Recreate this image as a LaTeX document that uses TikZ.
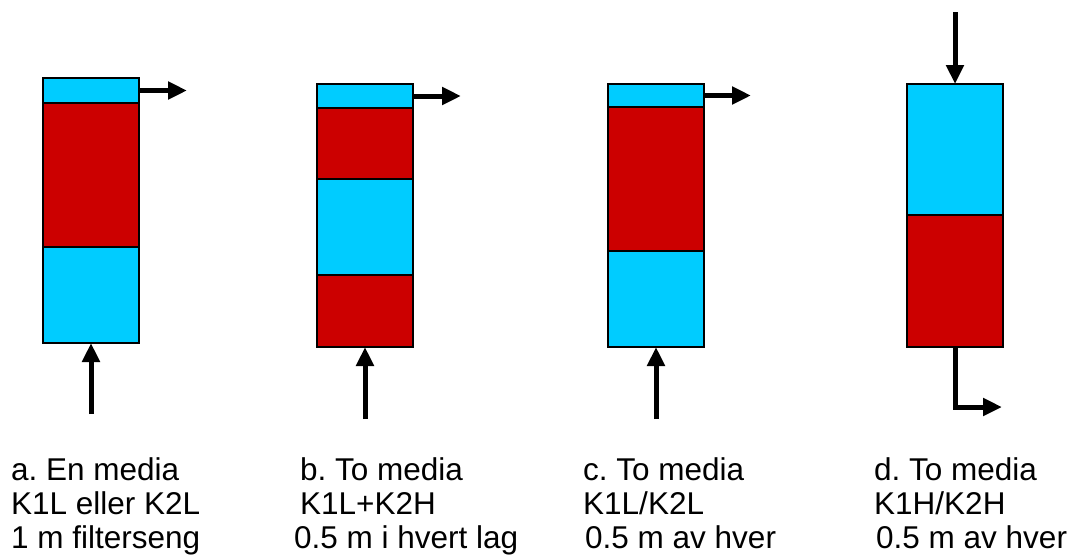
\documentclass[tikz,border=0pt]{standalone}
\usepackage{fontspec}
\setmainfont{Liberation Sans}
\usetikzlibrary{arrows.meta}
\definecolor{filtblaa}{HTML}{00CCFF}
\definecolor{filtrod}{HTML}{CC0000}
\frenchspacing

\begin{document}
\begin{tikzpicture}[x=1pt,y=-1pt,
  lag/.style={draw,line width=1.2pt,minimum width=96pt,inner sep=0pt,outer sep=0pt},
  pil/.style={line width=5pt,-{Triangle[length=19pt,width=17pt]}},
  tekst/.style={anchor=base west,inner sep=0pt,font=\fontsize{31.5}{34}\selectfont}]
  \useasboundingbox (0,0) rectangle (1072,560);
  % Filter a
  \node[lag,fill=filtblaa,minimum height=25pt] (a1) at (91,90.5) {};
  \node[lag,fill=filtrod,minimum height=144pt] (a2) at (91,175) {};
  \node[lag,fill=filtblaa,minimum height=96pt] (a3) at (91,295) {};
  % Filter b
  \node[lag,fill=filtblaa,minimum height=24pt] (b1) at (365,96) {};
  \node[lag,fill=filtrod,minimum height=71pt] (b2) at (365,143.5) {};
  \node[lag,fill=filtblaa,minimum height=96pt] (b3) at (365,227) {};
  \node[lag,fill=filtrod,minimum height=72pt] (b4) at (365,311) {};
  % Filter c
  \node[lag,fill=filtblaa,minimum height=23pt] (c1) at (656,95.5) {};
  \node[lag,fill=filtrod,minimum height=144pt] (c2) at (656,179) {};
  \node[lag,fill=filtblaa,minimum height=96pt] (c3) at (656,299) {};
  % Filter d
  \node[lag,fill=filtblaa,minimum height=131pt] (d1) at (955,149.5) {};
  \node[lag,fill=filtrod,minimum height=132pt] (d2) at (955,281) {};
  % Piler
  \coordinate (ainn) at (91,414);
  \coordinate (aut) at (187,90.5);
  \coordinate (binn) at (365,419);
  \coordinate (but) at (461,96);
  \coordinate (cinn) at (656,419);
  \coordinate (cut) at (751,95.5);
  \coordinate (dinn) at (955,12);
  \coordinate (dut) at (1002,407);
  \draw[pil] (ainn) -- (a3.south);
  \draw[pil] (a1.east) -- (aut);
  \draw[pil] (binn) -- (b4.south);
  \draw[pil] (b1.east) -- (but);
  \draw[pil] (cinn) -- (c3.south);
  \draw[pil] (c1.east) -- (cut);
  \draw[pil] (dinn) -- (d1.north);
  \draw[pil] (d2.south) |- (dut);
  % Tekst
  \node[tekst] (ta1) at (11,480) {a. En media};
  \node[tekst] (ta2) at (11,514) {K1L eller K2L};
  \node[tekst] (ta3) at (11,548) {1 m filterseng};
  \node[tekst] (tb1) at (300,480) {b. To media};
  \node[tekst] (tb2) at (300,514) {K1L+K2H};
  \node[tekst] (tb3) at (294,548) {0.5 m i hvert lag};
  \node[tekst] (tc1) at (583,480) {c. To media};
  \node[tekst] (tc2) at (583,514) {K1L/K2L};
  \node[tekst] (tc3) at (585,548) {0.5 m av hver};
  \node[tekst] (td1) at (874,480) {d. To media};
  \node[tekst] (td2) at (874,514) {K1H/K2H};
  \node[tekst] (td3) at (876,548) {0.5 m av hver};
\end{tikzpicture}
\end{document}
